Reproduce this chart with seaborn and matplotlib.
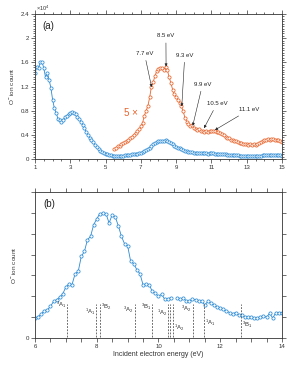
import matplotlib
matplotlib.use("Agg")
import matplotlib.pyplot as plt
import numpy as np
import pandas as pd
import seaborn as sns
from matplotlib.ticker import MultipleLocator, FuncFormatter

# panel (a): full scan, counts in units of 1e4
energy_a = np.round(np.arange(1.0, 15.05, 0.1), 1)
counts_a = [
    1.42, 1.52, 1.50, 1.60, 1.61, 1.50, 1.35, 1.43, 1.31, 1.18,
    0.98, 0.84, 0.76, 0.67, 0.64, 0.62, 0.65, 0.69, 0.72, 0.74,
    0.76, 0.77, 0.76, 0.74, 0.70, 0.66, 0.62, 0.56, 0.51, 0.45,
    0.40, 0.35, 0.32, 0.28, 0.23, 0.20, 0.17, 0.14, 0.12, 0.10,
    0.08, 0.075, 0.07, 0.06, 0.055, 0.05, 0.05, 0.045, 0.05, 0.05,
    0.055, 0.058, 0.06, 0.065, 0.068, 0.075, 0.08, 0.085, 0.09, 0.10,
    0.105, 0.115, 0.13, 0.15, 0.17, 0.19, 0.22, 0.24, 0.26, 0.28,
    0.295, 0.30, 0.305, 0.30, 0.31, 0.30, 0.28, 0.26, 0.24, 0.22,
    0.205, 0.19, 0.18, 0.17, 0.155, 0.14, 0.125, 0.115, 0.11, 0.11,
    0.105, 0.10, 0.098, 0.097, 0.095, 0.094, 0.092, 0.093, 0.09, 0.092,
    0.093, 0.092, 0.09, 0.09, 0.088, 0.086, 0.082, 0.078, 0.075, 0.072,
    0.07, 0.066, 0.064, 0.062, 0.06, 0.058, 0.056, 0.054, 0.052, 0.05,
    0.05, 0.048, 0.049, 0.047, 0.048, 0.047, 0.05, 0.052, 0.056, 0.06,
    0.062, 0.064, 0.066, 0.065, 0.066, 0.066, 0.064, 0.062, 0.064, 0.06,
    0.056,
]

# magnified (5x) part of panel (a)
energy_x5 = np.round(np.arange(5.5, 15.05, 0.1), 1)
counts_x5 = [
    0.17, 0.19, 0.21, 0.22, 0.25,
    0.26, 0.28, 0.30, 0.32, 0.34, 0.37, 0.40, 0.43, 0.46, 0.49,
    0.54, 0.60, 0.72, 0.80, 0.88, 1.02, 1.20, 1.27, 1.38, 1.45,
    1.49, 1.51, 1.50, 1.47, 1.53, 1.47, 1.36, 1.26, 1.15, 1.07,
    1.02, 0.98, 0.93, 0.87, 0.79, 0.68, 0.62, 0.58, 0.55, 0.57,
    0.52, 0.50, 0.48, 0.49, 0.46, 0.47, 0.45, 0.46, 0.45, 0.46,
    0.47, 0.46, 0.47, 0.45, 0.44, 0.43, 0.41, 0.39, 0.37, 0.35,
    0.34, 0.32, 0.31, 0.30, 0.29, 0.28, 0.27, 0.26, 0.25, 0.25,
    0.24, 0.23, 0.24, 0.23, 0.24, 0.23, 0.25, 0.26, 0.28, 0.30,
    0.31, 0.32, 0.33, 0.32, 0.33, 0.33, 0.32, 0.31, 0.32, 0.30,
    0.28,
]

# panel (b): fine scan 6-14 eV (arbitrary units)
energy_b = np.round(np.arange(6.0, 14.05, 0.1), 1)
counts_b = [
    0.95, 1.02, 1.15, 1.31, 1.35, 1.51, 1.75, 1.83, 1.96, 2.12,
    2.44, 2.60, 2.56, 3.08, 3.19, 3.91, 4.15, 4.71, 4.87, 5.43,
    5.71, 5.96, 5.99, 5.96, 5.51, 5.91, 5.80, 5.38, 4.87, 4.52,
    4.42, 3.67, 3.56, 3.27, 3.08, 2.55, 2.60, 2.55, 2.23, 2.15,
    1.99, 2.10, 1.86, 1.86, 1.94, np.nan, 1.94, 1.88, 1.90, 1.79,
    1.78, 1.86, 1.83, 1.79, 1.75, 1.59, 1.75, 1.67, 1.59, 1.50,
    1.45, 1.38, 1.30, 1.22, 1.15, 1.22, 1.10, 1.10, 1.02, 0.99,
    0.99, 0.95, 0.95, 1.02, 1.06, 0.99, 1.19, 0.95, 1.22, 1.22,
    1.22,
]

# arrow annotations in (a): label, text position, arrow tip
peak_labels = ["7.7 eV", "8.5 eV", "9.3 eV", "9.9 eV", "10.5 eV", "11.1 eV"]
peak_text_x = [7.2, 8.42, 9.49, 10.5, 11.32, 13.16]
peak_text_y = [1.75, 2.04, 1.72, 1.24, 0.92, 0.82]
peak_tip_x = [7.61, 8.43, 9.32, 9.94, 10.58, 11.2]
peak_tip_y = [1.19, 1.53, 0.87, 0.55, 0.51, 0.48]

# excited states in (b)
state_energy = [7.05, 7.98, 8.10, 9.24, 9.80, 10.32, 10.37, 10.48, 11.12, 11.48, 12.66]
state_label_x = [7.05, 7.98, 8.10, 9.24, 9.80, 10.32, 10.48, 11.12, 11.48, 12.66]
state_label_y = [1.59, 1.26, 1.49, 1.35, 1.49, 1.20, 0.47, 1.38, 0.71, 0.65]
state_label_side = ["right", "right", "left", "right", "right", "right", "left", "right", "left", "left"]
state_names = [r"$^{3}\mathrm{A}_{1}$", r"$^{1}\mathrm{A}_{1}$", r"$^{3}\mathrm{B}_{2}$",
               r"$^{3}\mathrm{A}_{2}$", r"$^{3}\mathrm{B}_{1}$", r"$^{1}\mathrm{A}_{2}$",
               r"$^{1}\mathrm{A}_{2}$", r"$^{3}\mathrm{A}_{2}$", r"$^{1}\mathrm{A}_{1}$",
               r"$^{3}\mathrm{B}_{1}$"]

BLUE = "#2a8ad4"
ORANGE = "#e8632b"
INK = "#333333"

sns.set_style("ticks")
plt.rcParams["font.family"] = ["Liberation Sans", "DejaVu Sans"]
plt.rcParams["mathtext.fontset"] = "custom"
plt.rcParams["mathtext.rm"] = "Liberation Sans"
plt.rcParams["mathtext.it"] = "Liberation Sans:italic"
plt.rcParams["axes.edgecolor"] = INK
plt.rcParams["axes.linewidth"] = 0.6

fig = plt.figure(figsize=(2.98, 3.65), dpi=100)
ax_a = fig.add_axes([0.1174, 0.5644, 0.8289, 0.3972])
ax_b = fig.add_axes([0.1174, 0.0740, 0.8289, 0.4000])

line_kw = dict(lw=0.6, marker="o", markersize=2.3, markerfacecolor="white",
               markeredgewidth=0.55)

df_a = pd.DataFrame({"energy": energy_a, "count": counts_a})
df_x5 = pd.DataFrame({"energy": energy_x5, "count": counts_x5})
sns.lineplot(data=df_a, x="energy", y="count", ax=ax_a, color=BLUE,
             markeredgecolor=BLUE, **line_kw)
sns.lineplot(data=df_x5, x="energy", y="count", ax=ax_a, color=ORANGE,
             markeredgecolor=ORANGE, **line_kw)

# split (b) where a point is missing
seg = np.cumsum(np.isnan(counts_b))
df_b = pd.DataFrame({"energy": energy_b, "count": counts_b, "seg": seg}).dropna()
sns.lineplot(data=df_b, x="energy", y="count", units="seg", estimator=None,
             ax=ax_b, color=BLUE, markeredgecolor=BLUE, **line_kw)

# ---- panel (a) styling
ax_a.set_xlim(1, 15)
ax_a.set_ylim(0, 2.4)
ax_a.xaxis.set_major_locator(MultipleLocator(2))
ax_a.xaxis.set_minor_locator(MultipleLocator(0.5))
ax_a.set_xticks(np.arange(1, 16, 2))
ax_a.yaxis.set_major_locator(MultipleLocator(0.4))
ax_a.yaxis.set_minor_locator(MultipleLocator(0.04))
ax_a.yaxis.set_major_formatter(FuncFormatter(lambda v, p: f"{v:g}"))
ax_a.set_xlabel("")
ax_a.set_ylabel(r"O$^{-}$ ion count", fontsize=4.6, labelpad=3, color=INK)
ax_a.text(0.005, 1.005, r"$\times$10$^{4}$", transform=ax_a.transAxes,
          fontsize=4, ha="left", va="bottom", color=INK)
ax_a.text(0.055, 0.917, "(a)", transform=ax_a.transAxes, fontsize=7,
          ha="center", va="center", color="#222222")
ax_a.text(6.46, 0.76, "5 \u00d7", fontsize=7, color=ORANGE, ha="center", va="center")

for lab, tx, ty, px, py in zip(peak_labels, peak_text_x, peak_text_y, peak_tip_x, peak_tip_y):
    ax_a.annotate(lab, xy=(px, py), xytext=(tx, ty), fontsize=4.3, ha="center",
                  va="center", color="#222222",
                  arrowprops=dict(arrowstyle="-|>", lw=0.4, color="#222222",
                                  mutation_scale=4, shrinkA=1, shrinkB=0))

# ---- panel (b) styling
ax_b.set_xlim(6, 14)
ax_b.set_ylim(0, 7)
ax_b.xaxis.set_major_locator(MultipleLocator(0.5))
ax_b.xaxis.set_major_formatter(
    FuncFormatter(lambda v, p: f"{v:g}" if abs(v / 2 - round(v / 2)) < 1e-6 else ""))
ax_b.yaxis.set_major_locator(MultipleLocator(1))
ax_b.yaxis.set_major_formatter(FuncFormatter(lambda v, p: "0" if abs(v) < 1e-6 else ""))
ax_b.set_xlabel("Incident electron energy (eV)", fontsize=5, labelpad=2, color=INK)
ax_b.set_ylabel(r"O$^{-}$ ion count", fontsize=4.6, labelpad=6, color=INK)
ax_b.text(0.059, 0.918, "(b)", transform=ax_b.transAxes, fontsize=7,
          ha="center", va="center", color="#222222")

ax_b.vlines(state_energy, 0.05, 1.65, colors="#555555", linestyles=(0, (2.2, 1.6)), lw=0.6)
for name, sx, sy, side in zip(state_names, state_label_x, state_label_y, state_label_side):
    off = -0.03 if side == "right" else 0.03
    ax_b.text(sx + off, sy, name, fontsize=4.3, ha=side, va="center", color="#333333")

for ax in (ax_a, ax_b):
    ax.tick_params(which="both", direction="out", top=True, right=True,
                   labelsize=4.4, width=0.5, color=INK, labelcolor=INK, pad=1.5)
    ax.tick_params(which="major", length=2.6)
    ax.tick_params(which="minor", length=1.4)
    for s in ax.spines.values():
        s.set_visible(True)

fig.savefig("out.png", dpi=100)
